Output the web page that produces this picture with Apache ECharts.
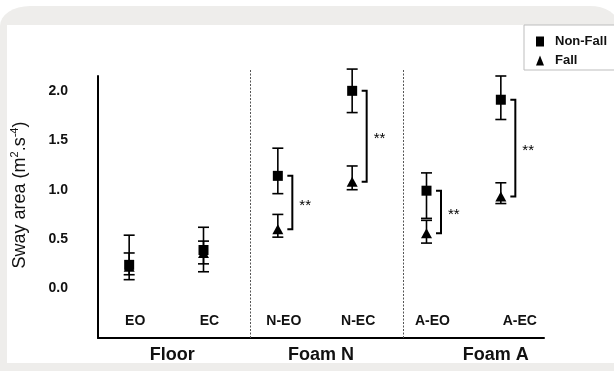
<!DOCTYPE html>
<html>
<head>
<meta charset="utf-8">
<script src="https://cdn.jsdelivr.net/npm/echarts@6/dist/echarts.min.js"></script>
<style>
  body { margin: 0; background: #fff; width: 614px; height: 371px; overflow: hidden; position: relative; }
  #card { position: absolute; left: 0; top: 6px; width: 618px; height: 365px; background: #eeedeb;
          border-top-left-radius: 30px 20px; border-top-right-radius: 28px 18px; }
  #panel { position: absolute; left: 7px; top: 25px; width: 607px; height: 338px; background: #fff; }
  #chart { position: absolute; left: 0; top: 0; width: 614px; height: 371px; }
</style>
</head>
<body>
<div id="card"></div>
<div id="panel"></div>
<div id="chart"></div>
<script>
// sway area per condition
const categories = ['EO', 'EC', 'N-EO', 'N-EC', 'A-EO', 'A-EC'];
const groups = ['Floor', 'Foam N', 'Foam A'];
const nonFallMean = [0.24, 0.39, 1.14, 2.00, 0.99, 1.91];
const nonFallLow = [0.14, 0.17, 0.96, 1.78, 0.71, 1.71];
const nonFallHigh = [0.54, 0.62, 1.42, 2.22, 1.17, 2.15];
const fallMean = [0.22, 0.36, 0.60, 1.08, 0.56, 0.93];
const fallLow = [0.09, 0.25, 0.52, 1.00, 0.46, 0.86];
const fallHigh = [0.36, 0.48, 0.75, 1.24, 0.69, 1.07];
const significance = ['', '', '**', '**', '**', '**'];
const dividerAt = [2.04, 4.1];

const FONT = '"Liberation Sans", Arial, sans-serif';
const SHIFT = -6; // markers sit a little left of the category centre

const chart = echarts.init(document.getElementById('chart'));

const errData = [];
categories.forEach((c, i) => {
  errData.push([i, nonFallLow[i], nonFallHigh[i]]);
  errData.push([i, fallLow[i], fallHigh[i]]);
});

const bracketData = [];
categories.forEach((c, i) => {
  if (significance[i]) bracketData.push([i, nonFallMean[i], fallMean[i], significance[i]]);
});

const option = {
  animation: false,
  textStyle: { fontFamily: FONT },
  grid: { left: 98, right: 70, top: 76, bottom: 33 },
  legend: {
    orient: 'vertical',
    left: 524,
    top: 25,
    padding: [10, 30, 3, 12],
    itemWidth: 8,
    itemHeight: 10,
    itemGap: 6,
    borderColor: '#bdbdbd',
    borderWidth: 1,
    backgroundColor: '#fff',
    textStyle: { fontFamily: FONT, fontWeight: 'bold', fontSize: 13, color: '#111', padding: [0, 0, 0, 6] },
    data: [
      { name: 'Non-Fall', icon: 'rect' },
      { name: 'Fall', icon: 'triangle' }
    ]
  },
  xAxis: [
    {
      type: 'category',
      data: categories,
      axisLine: { onZero: false, lineStyle: { color: '#000', width: 2 } },
      axisTick: { show: false },
      axisLabel: {
        inside: true,
        margin: 10,
        color: '#111',
        fontWeight: 'bold',
        fontSize: 14,
        fontFamily: FONT,
        formatter: v => v === 'A-EC' ? '{r|' + v + '}' : v,
        rich: { r: { padding: [0, 0, 0, 26], fontWeight: 'bold', fontSize: 14, fontFamily: FONT, color: '#111' } }
      }
    },
    {
      type: 'category',
      data: groups,
      position: 'bottom',
      axisLine: { show: false, onZero: false },
      axisTick: { show: false },
      axisLabel: {
        margin: 8,
        color: '#111',
        fontWeight: 'bold',
        fontSize: 18,
        fontFamily: FONT,
        formatter: v => v === 'Foam A' ? '{r|' + v + '}' : v,
        rich: { r: { padding: [0, 0, 0, 52], fontWeight: 'bold', fontSize: 18, fontFamily: FONT, color: '#111' } }
      }
    },
    { type: 'value', min: 0, max: 6, show: false }
  ],
  yAxis: {
    type: 'value',
    min: -0.5,
    max: 2.15,
    interval: 0.5,
    splitLine: { show: false },
    axisTick: { show: false },
    axisLine: { show: true, onZero: false, lineStyle: { color: '#000', width: 2 } },
    axisLabel: {
      margin: 30,
      color: '#111',
      fontWeight: 'bold',
      fontSize: 14,
      fontFamily: FONT,
      showMaxLabel: false,
      formatter: v => (v < 0 || v > 2) ? '' : v.toFixed(1)
    },
    name: '{n|Sway area (m}{s|2}{n|.s}{s|-4}{n|)}',
    nameLocation: 'middle',
    nameRotate: 90,
    nameGap: 67,
    nameTextStyle: {
      padding: [0, 0, 0, 24],
      rich: {
        n: { fontSize: 18, fontFamily: FONT, color: '#111', lineHeight: 22 },
        s: { fontSize: 11, fontFamily: FONT, color: '#111', verticalAlign: 'top' }
      }
    }
  },
  series: [
    {
      type: 'custom',
      name: 'dividers',
      xAxisIndex: 2,
      silent: true,
      clip: false,
      data: dividerAt.map(x => [x]),
      encode: { x: 0 },
      renderItem: (params, api) => {
        const x = Math.round(api.coord([api.value(0), 0])[0]) + 0.5;
        const cs = params.coordSys;
        return {
          type: 'line',
          shape: { x1: x, y1: cs.y - 6, x2: x, y2: cs.y + cs.height },
          style: { stroke: '#555', lineWidth: 1, lineDash: [2, 1.5] }
        };
      }
    },
    {
      type: 'custom',
      name: 'errors',
      silent: true,
      data: errData,
      encode: { x: 0, y: [1, 2] },
      renderItem: (params, api) => {
        const lo = api.coord([api.value(0), api.value(1)]);
        const hi = api.coord([api.value(0), api.value(2)]);
        const x = lo[0] + SHIFT;
        const w = 5.5;
        const st = { stroke: '#000', lineWidth: 1.6 };
        return {
          type: 'group',
          children: [
            { type: 'line', shape: { x1: x, y1: hi[1], x2: x, y2: lo[1] }, style: st },
            { type: 'line', shape: { x1: x - w, y1: hi[1], x2: x + w, y2: hi[1] }, style: st },
            { type: 'line', shape: { x1: x - w, y1: lo[1], x2: x + w, y2: lo[1] }, style: st }
          ]
        };
      }
    },
    {
      type: 'custom',
      name: 'brackets',
      silent: true,
      clip: false,
      data: bracketData,
      encode: { x: 0, y: [1, 2] },
      renderItem: (params, api) => {
        const top = api.coord([api.value(0), api.value(1)]);
        const bot = api.coord([api.value(0), api.value(2)]);
        const x = top[0] + SHIFT + 14.5;
        return {
          type: 'group',
          children: [
            {
              type: 'polyline',
              shape: { points: [[x - 5, top[1]], [x, top[1]], [x, bot[1]], [x - 5, bot[1]]] },
              style: { stroke: '#000', lineWidth: 2, fill: null }
            },
            {
              type: 'text',
              style: {
                x: x + 7, y: (top[1] + bot[1]) / 2 + 3,
                text: api.value(3),
                fill: '#000', fontSize: 15, fontFamily: FONT,
                verticalAlign: 'middle', align: 'left'
              }
            }
          ]
        };
      }
    },
    {
      type: 'scatter',
      name: 'Non-Fall',
      data: nonFallMean,
      symbol: 'rect',
      symbolSize: 10,
      symbolOffset: [SHIFT, 0],
      itemStyle: { color: '#000', opacity: 1 },
      z: 5
    },
    {
      type: 'scatter',
      name: 'Fall',
      data: fallMean,
      symbol: 'triangle',
      symbolSize: [11, 10],
      symbolOffset: [SHIFT, 0],
      itemStyle: { color: '#000', opacity: 1 },
      z: 4
    }
  ]
};

chart.setOption(option);
</script>
</body>
</html>
